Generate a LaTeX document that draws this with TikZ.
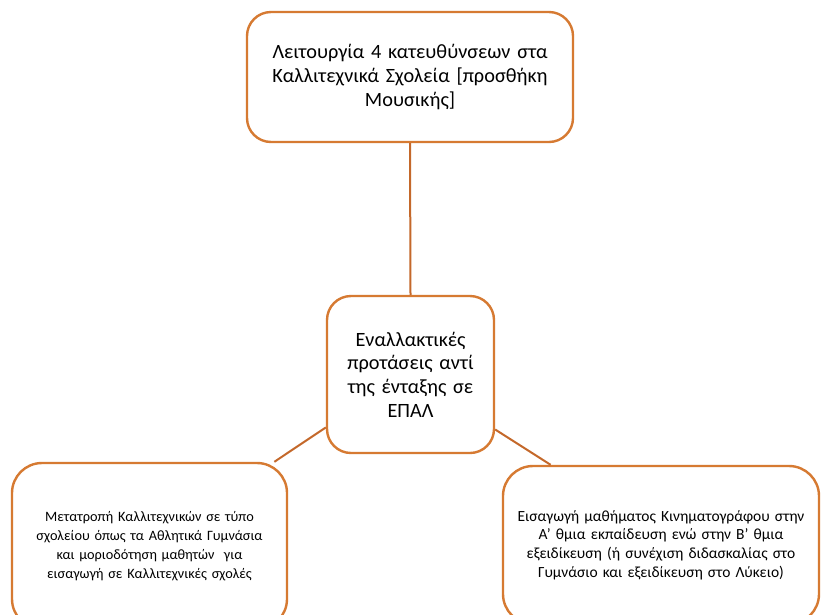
\documentclass[tikz,border=0pt]{standalone}
\usepackage{fontspec}
\setmainfont{Carlito}
\begin{document}
\definecolor{boxline}{RGB}{214,122,50}
\definecolor{linkline}{RGB}{196,104,42}
\begin{tikzpicture}[x=1pt,y=-1pt,
  card/.style={draw=boxline,line width=2.4pt,rounded corners=24pt,fill=white,
    align=center,inner sep=0pt},
  bigtext/.style={font=\fontsize{20.3}{23.6}\selectfont},
  lefttext/.style={font=\fontsize{14.3}{19}\selectfont},
  righttext/.style={font=\fontsize{15.5}{18.6}\selectfont},
  link/.style={draw=linkline,line width=2pt}]
\path[use as bounding box] (0,0) rectangle (821,614);
\clip (0,0) rectangle (821,614);
\fill[white] (0,0) rectangle (821,614);

% the four boxes
\node[card,bigtext,minimum width=326pt,minimum height=130pt,text width=310pt] (top) at (410,77)
  {Λειτουργία 4 κατευθύνσεων στα\\Καλλιτεχνικά Σχολεία [προσθήκη\\Μουσικής]};
\node[card,bigtext,minimum width=167pt,minimum height=157pt,text width=155pt] (mid) at (410.5,374.5)
  {Εναλλακτικές\\προτάσεις αντί\\της ένταξης σε\\ΕΠΑΛ};
\node[card,lefttext,rounded corners=30pt,minimum width=275pt,minimum height=166pt,text width=268pt] (bl) at (149.5,546)
  {Μετατροπή Καλλιτεχνικών σε τύπο\\σχολείου όπως τα Αθλητικά Γυμνάσια\\και μοριοδότηση μαθητών \ για\\εισαγωγή σε Καλλιτεχνικές σχολές};
\node[card,righttext,rounded corners=30pt,minimum width=316pt,minimum height=158pt,text width=310pt] (br) at (661,545)
  {Εισαγωγή μαθήματος Κινηματογράφου στην\\Α' θμια εκπαίδευση ενώ στην Β' θμια\\εξειδίκευση (ή συνέχιση διδασκαλίας στο\\Γυμνάσιο και εξειδίκευση στο Λύκειο)};

% connectors from the central box
\draw[link] (top.south) -- (mid.north);
\draw[link] (mid.212.6) -- (bl.34);
\draw[link] (mid.-33.6) -- (br.144);
\end{tikzpicture}
\end{document}
